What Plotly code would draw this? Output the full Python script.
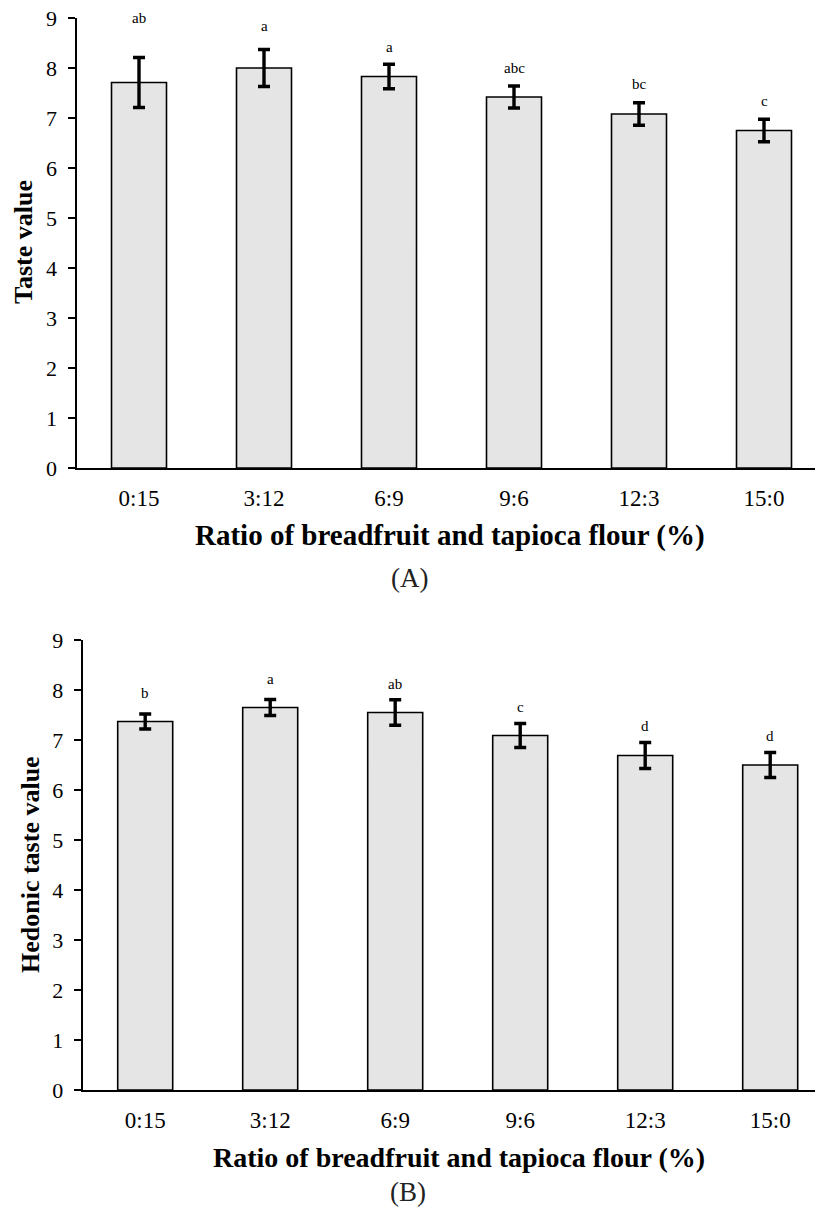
import plotly.graph_objects as go

# ---------------- data ----------------
categories = ["0:15", "3:12", "6:9", "9:6", "12:3", "15:0"]

taste_A = [7.71, 8.00, 7.83, 7.42, 7.08, 6.75]
err_A = [0.50, 0.37, 0.245, 0.22, 0.225, 0.225]
letters_A = ["ab", "a", "a", "abc", "bc", "c"]
letter_y_A = [8.99, 8.84, 8.41, 8.00, 7.67, 7.33]

hedonic_B = [7.37, 7.65, 7.55, 7.09, 6.69, 6.50]
err_B = [0.15, 0.16, 0.255, 0.24, 0.26, 0.25]
letters_B = ["b", "a", "ab", "c", "d", "d"]
letter_y_B = [7.95, 8.22, 8.12, 7.67, 7.28, 7.08]

y_ticks = [0, 1, 2, 3, 4, 5, 6, 7, 8, 9]

x_title = "Ratio of breadfruit and tapioca flour (%)"
y_title_A = "Taste value"
y_title_B = "Hedonic taste value"

# ---------------- layout helpers ----------------
W, H = 815, 1207
FONT = "Liberation Serif"
BAR_FILL = "#e5e5e5"
CAT_PX = 125.0


def px_x(v):
    return v / W


def px_y(v):
    return 1 - v / H


fig = go.Figure()

fig.add_trace(go.Bar(
    x=categories, y=taste_A, xaxis="x", yaxis="y",
    width=0.44,
    marker=dict(color=BAR_FILL, line=dict(color="black", width=1.6)),
    error_y=dict(type="data", array=err_A, visible=True,
                 color="black", thickness=3.4, width=6),
    showlegend=False,
))
fig.add_trace(go.Bar(
    x=categories, y=hedonic_B, xaxis="x2", yaxis="y2",
    width=0.44,
    marker=dict(color=BAR_FILL, line=dict(color="black", width=1.6)),
    error_y=dict(type="data", array=err_B, visible=True,
                 color="black", thickness=3.4, width=6),
    showlegend=False,
))

left_A, left_B = 76.5, 82.7
common_x = dict(
    type="category", showline=True, linecolor="black", linewidth=2,
    ticks="", showgrid=False, zeroline=False, automargin=False,
    tickfont=dict(family=FONT, size=23, color="black"),
    ticklabelstandoff=8,
)
common_y = dict(
    range=[0, 9], tickvals=y_ticks, showline=True, linecolor="black",
    linewidth=2, ticks="outside", ticklen=7, tickwidth=2, tickcolor="black",
    showgrid=False, zeroline=False, automargin=False,
    tickfont=dict(family=FONT, size=22, color="black"),
    ticklabelstandoff=6,
)

fig.update_layout(
    template="none",
    width=W, height=H,
    margin=dict(l=0, r=0, t=0, b=0, pad=0),
    paper_bgcolor="white", plot_bgcolor="white",
    bargap=0.56,
    xaxis=dict(common_x, domain=[px_x(left_A), 1],
               range=[-0.5, -0.5 + (W - left_A) / CAT_PX], anchor="y"),
    yaxis=dict(common_y, domain=[px_y(468), px_y(18)], anchor="x"),
    xaxis2=dict(common_x, domain=[px_x(left_B), 1],
                range=[-0.5, -0.5 + (W - left_B) / CAT_PX], anchor="y2"),
    yaxis2=dict(common_y, domain=[px_y(1090), px_y(640)], anchor="x2"),
)

annotations = []
for c, t, ly in zip(categories, letters_A, letter_y_A):
    annotations.append(dict(x=c, y=ly, xref="x", yref="y", text=t,
                            showarrow=False, yanchor="middle",
                            font=dict(family=FONT, size=15, color="black")))
for c, t, ly in zip(categories, letters_B, letter_y_B):
    annotations.append(dict(x=c, y=ly, xref="x2", yref="y2", text=t,
                            showarrow=False, yanchor="middle",
                            font=dict(family=FONT, size=15, color="black")))

# axis titles and panel labels
annotations += [
    dict(x=px_x(23), y=px_y(242), xref="paper", yref="paper",
         text="<b>" + y_title_A + "</b>", textangle=-90, showarrow=False,
         xanchor="center", yanchor="middle",
         font=dict(family=FONT, size=26, color="black")),
    dict(x=px_x(31), y=px_y(865), xref="paper", yref="paper",
         text="<b>" + y_title_B + "</b>", textangle=-90, showarrow=False,
         xanchor="center", yanchor="middle",
         font=dict(family=FONT, size=26, color="black")),
    dict(x=px_x(450), y=px_y(535), xref="paper", yref="paper",
         text="<b>" + x_title + "</b>", showarrow=False,
         xanchor="center", yanchor="middle",
         font=dict(family=FONT, size=29, color="black")),
    dict(x=px_x(459), y=px_y(1157), xref="paper", yref="paper",
         text="<b>" + x_title + "</b>", showarrow=False,
         xanchor="center", yanchor="middle",
         font=dict(family=FONT, size=28, color="black")),
    dict(x=px_x(409), y=px_y(578), xref="paper", yref="paper",
         text="(A)", showarrow=False, xanchor="center", yanchor="middle",
         font=dict(family=FONT, size=27, color="#222222")),
    dict(x=px_x(408), y=px_y(1192), xref="paper", yref="paper",
         text="(B)", showarrow=False, xanchor="center", yanchor="middle",
         font=dict(family=FONT, size=27, color="#222222")),
]
fig.update_layout(annotations=annotations)

fig.write_html(
    "out.html",
    config={"displayModeBar": False},
    post_script="document.body.style.margin='0';"
                "document.body.style.overflow='hidden';",
)
